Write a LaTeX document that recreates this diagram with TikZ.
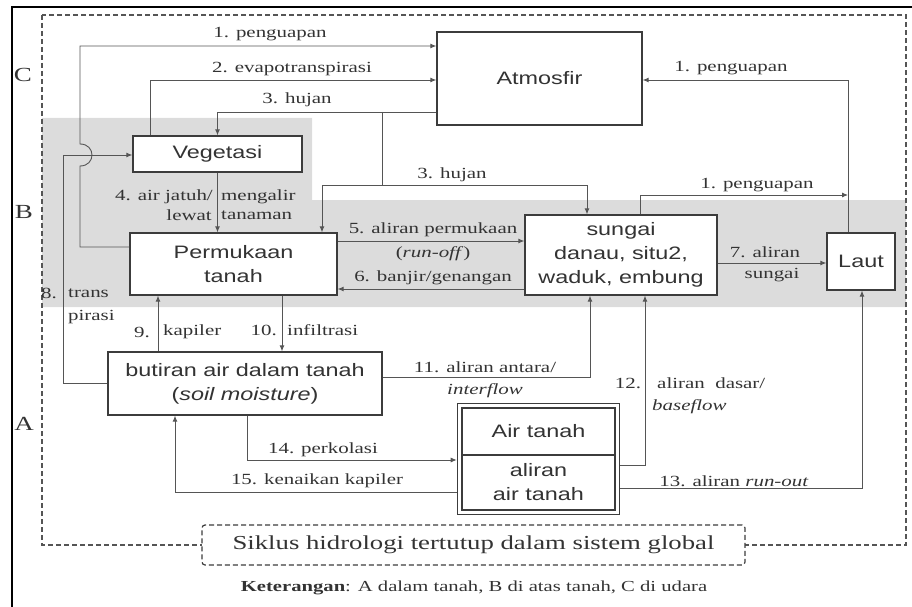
\documentclass[tikz,border=0pt]{standalone}
\usepackage{fontspec}
\setmainfont{Liberation Serif}[FakeStretch=1.35]
\setsansfont{Liberation Sans}[FakeStretch=1.3]
\usetikzlibrary{arrows.meta,calc,fit}
\definecolor{linec}{HTML}{555555}
\definecolor{boxc}{HTML}{3C3C3C}
\definecolor{txtc}{HTML}{333333}
\definecolor{bandc}{HTML}{DCDCDC}
\tikzset{
  box/.style={draw=boxc, line width=1.3pt, fill=white, font=\sffamily\fontsize{18}{24}\selectfont, text=txtc, align=center, inner sep=0pt},
  flow/.style={draw=linec, line width=0.9pt, -{Latex[length=6pt,width=5pt]}},
  plain/.style={draw=linec, line width=0.9pt},
  lbl/.style={font=\fontsize{15.5}{18}\selectfont, text=txtc, inner sep=0pt},
  zone/.style={font=\fontsize{20}{22}\selectfont, text=txtc, inner sep=0pt},
  capbox/.style={draw=boxc, line width=1.2pt, dash pattern=on 5pt off 3pt, rounded corners=3pt, fill=white, font=\fontsize{19.8}{23}\selectfont, text=txtc, inner sep=0pt}
}
\begin{document}
\begin{tikzpicture}[x=1pt,y=-1pt]
\useasboundingbox (0,0) rectangle (912,607);
% frame
\draw[black, line width=1.5pt] (12,607) -- (12,7) -- (912,7);
% B band
\fill[bandc] (42,118) -- (312,118) -- (312,200) -- (906,200) -- (906,307) -- (42,307) -- cycle;
% outer dashed zone
\draw[linec, line width=1.3pt, dash pattern=on 5pt off 3pt] (42,15) rectangle (906,545);
% zone letters
\node[zone] (zc) at (23,75) {C};
\node[zone] (zb) at (24,212) {B};
\node[zone] (za) at (24,424) {A};
% nodes
\node[box, minimum width=205, minimum height=93] (atm) at (539.5,78.5) {Atmosfir};
\node[box, minimum width=169, minimum height=36] (veg) at (217.5,154) {Vegetasi};
\node[box, minimum width=207, minimum height=62] (perm) at (233.5,264) {Permukaan\\tanah};
\node[box, minimum width=274, minimum height=63] (but) at (245,383.5) {butiran air dalam tanah\\(\textit{soil moisture})};
\node[box, minimum width=192, minimum height=80] (sun) at (621,255) {sungai\\danau, situ2,\\waduk, embung};
\node[box, minimum width=68, minimum height=57] (laut) at (861,261.5) {Laut};
\node[box, minimum width=153, minimum height=47] (gwa) at (538.5,431.5) {Air tanah};
\node[box, minimum width=153, minimum height=55] (gwb) at (538.5,482.5) {aliran\\air tanah};
\node[draw=boxc, line width=1.3pt, fit=(gwa)(gwb), inner sep=4pt] (gw) {};
% connectors
% 1. penguapan (left)
\draw[flow] (perm.west |- 0,247) -- (80,247) -- (80,166) .. controls (96,166) and (96,144) .. (80,144) -- (80,46) -- (atm.west |- 0,46);
% 2. evapotranspirasi
\draw[flow] (veg.north -| 150,0) -- (150,80) -- (atm.west |- 0,80);
% 3. hujan
\draw[flow] (atm.west |- 0,112) -- (217.5,112) -- (veg.north);
\coordinate (hj) at (382,185);
\draw[plain] (382,112) -- (hj);
\draw[flow] (hj) -- (322,185) -- (perm.north -| 322,0);
\draw[flow] (hj) -- (587,185) -- (sun.north -| 587,0);
% 4
\draw[flow] (veg.south) -- (perm.north -| veg.south);
% 5, 6, 7
\draw[flow] (perm.east |- 0,241) -- (sun.west |- 0,241);
\draw[flow] (sun.west |- 0,289) -- (perm.east |- 0,289);
\draw[flow] (sun.east |- 0,263) -- (laut.west |- 0,263);
% 1. penguapan (right)
\draw[flow] (laut.north -| 848,0) -- (848,80) -- (atm.east |- 0,80);
\coordinate (j1) at (848,195);
\draw[flow] (sun.north -| 640,0) -- (640,195) -- (j1);
% 8
\draw[flow] (but.west |- 0,383) -- (63,383) -- (63,155) -- (veg.west |- 0,155);
% 9, 10
\draw[flow] (but.north -| 158,0) -- (perm.south -| 158,0);
\draw[flow] (perm.south -| 282,0) -- (but.north -| 282,0);
% 11
\draw[flow] (but.east |- 0,377) -- (590,377) -- (sun.south -| 590,0);
% 12
\draw[flow] (gw.east |- 0,465) -- (645,465) -- (sun.south -| 645,0);
% 13
\draw[flow] (gw.east |- 0,488) -- (862,488) -- (laut.south -| 862,0);
% 14
\draw[flow] (but.south -| 247,0) -- (247,460) -- (gw.west |- 0,460);
% 15
\draw[flow] (gw.west |- 0,492) -- (175,492) -- (but.south -| 175,0);
% labels
\node[lbl] (l1a) at (270,34) {1. penguapan};
\node[lbl] (l2) at (292,69) {2. evapotranspirasi};
\node[lbl] (l3a) at (297,100) {3. hujan};
\node[lbl] (l3b) at (452,175) {3. hujan};
\node[lbl, anchor=east] (l4a) at (213,197) {4. air jatuh/};
\node[lbl, anchor=west] (l4b) at (221,197) {mengalir};
\node[lbl, anchor=east] (l4c) at (212,215) {lewat};
\node[lbl, anchor=west] (l4d) at (221,215) {tanaman};
\node[lbl] (l5a) at (433,230) {5. aliran permukaan};
\node[lbl] (l5b) at (433,254) {(\textit{run-off})};
\node[lbl] (l6) at (433,278) {6. banjir/genangan};
\node[lbl] (l7a) at (765,252) {7. aliran};
\node[lbl] (l7b) at (772,275) {sungai};
\node[lbl] (l1b) at (731,68) {1. penguapan};
\node[lbl] (l1c) at (757,185) {1. penguapan};
\node[lbl, anchor=east] (l8a) at (57,293) {8.};
\node[lbl, anchor=west] (l8b) at (68,293) {trans};
\node[lbl, anchor=west] (l8c) at (68,317) {pirasi};
\node[lbl, anchor=east] (l9a) at (150,332) {9.};
\node[lbl, anchor=west] (l9b) at (163,332) {kapiler};
\node[lbl, anchor=east] (l10a) at (277,330) {10.};
\node[lbl, anchor=west] (l10b) at (287,330) {infiltrasi};
\node[lbl] (l11a) at (485,367) {11. aliran antara/};
\node[lbl] (l11b) at (485,391) {\textit{interflow}};
\node[lbl] (l12a) at (628,383) {12.};
\node[lbl, anchor=west] (l12b) at (657,383) {aliran\ \ dasar/};
\node[lbl, anchor=west] (l12c) at (652,407) {\textit{baseflow}};
\node[lbl] (l13) at (734,481) {13. aliran \textit{run-out}};
\node[lbl] (l14) at (323,450) {14. perkolasi};
\node[lbl] (l15) at (317,481) {15. kenaikan kapiler};
% caption
\node[capbox, minimum width=543, minimum height=40] (cap) at (473.5,545) {Siklus hidrologi tertutup dalam sistem global};
\node[font=\fontsize{15.3}{18}\selectfont, text=txtc, inner sep=0pt] (ket) at (474,588) {\textbf{Keterangan}: A dalam tanah, B di atas tanah, C di udara};
\end{tikzpicture}
\end{document}
